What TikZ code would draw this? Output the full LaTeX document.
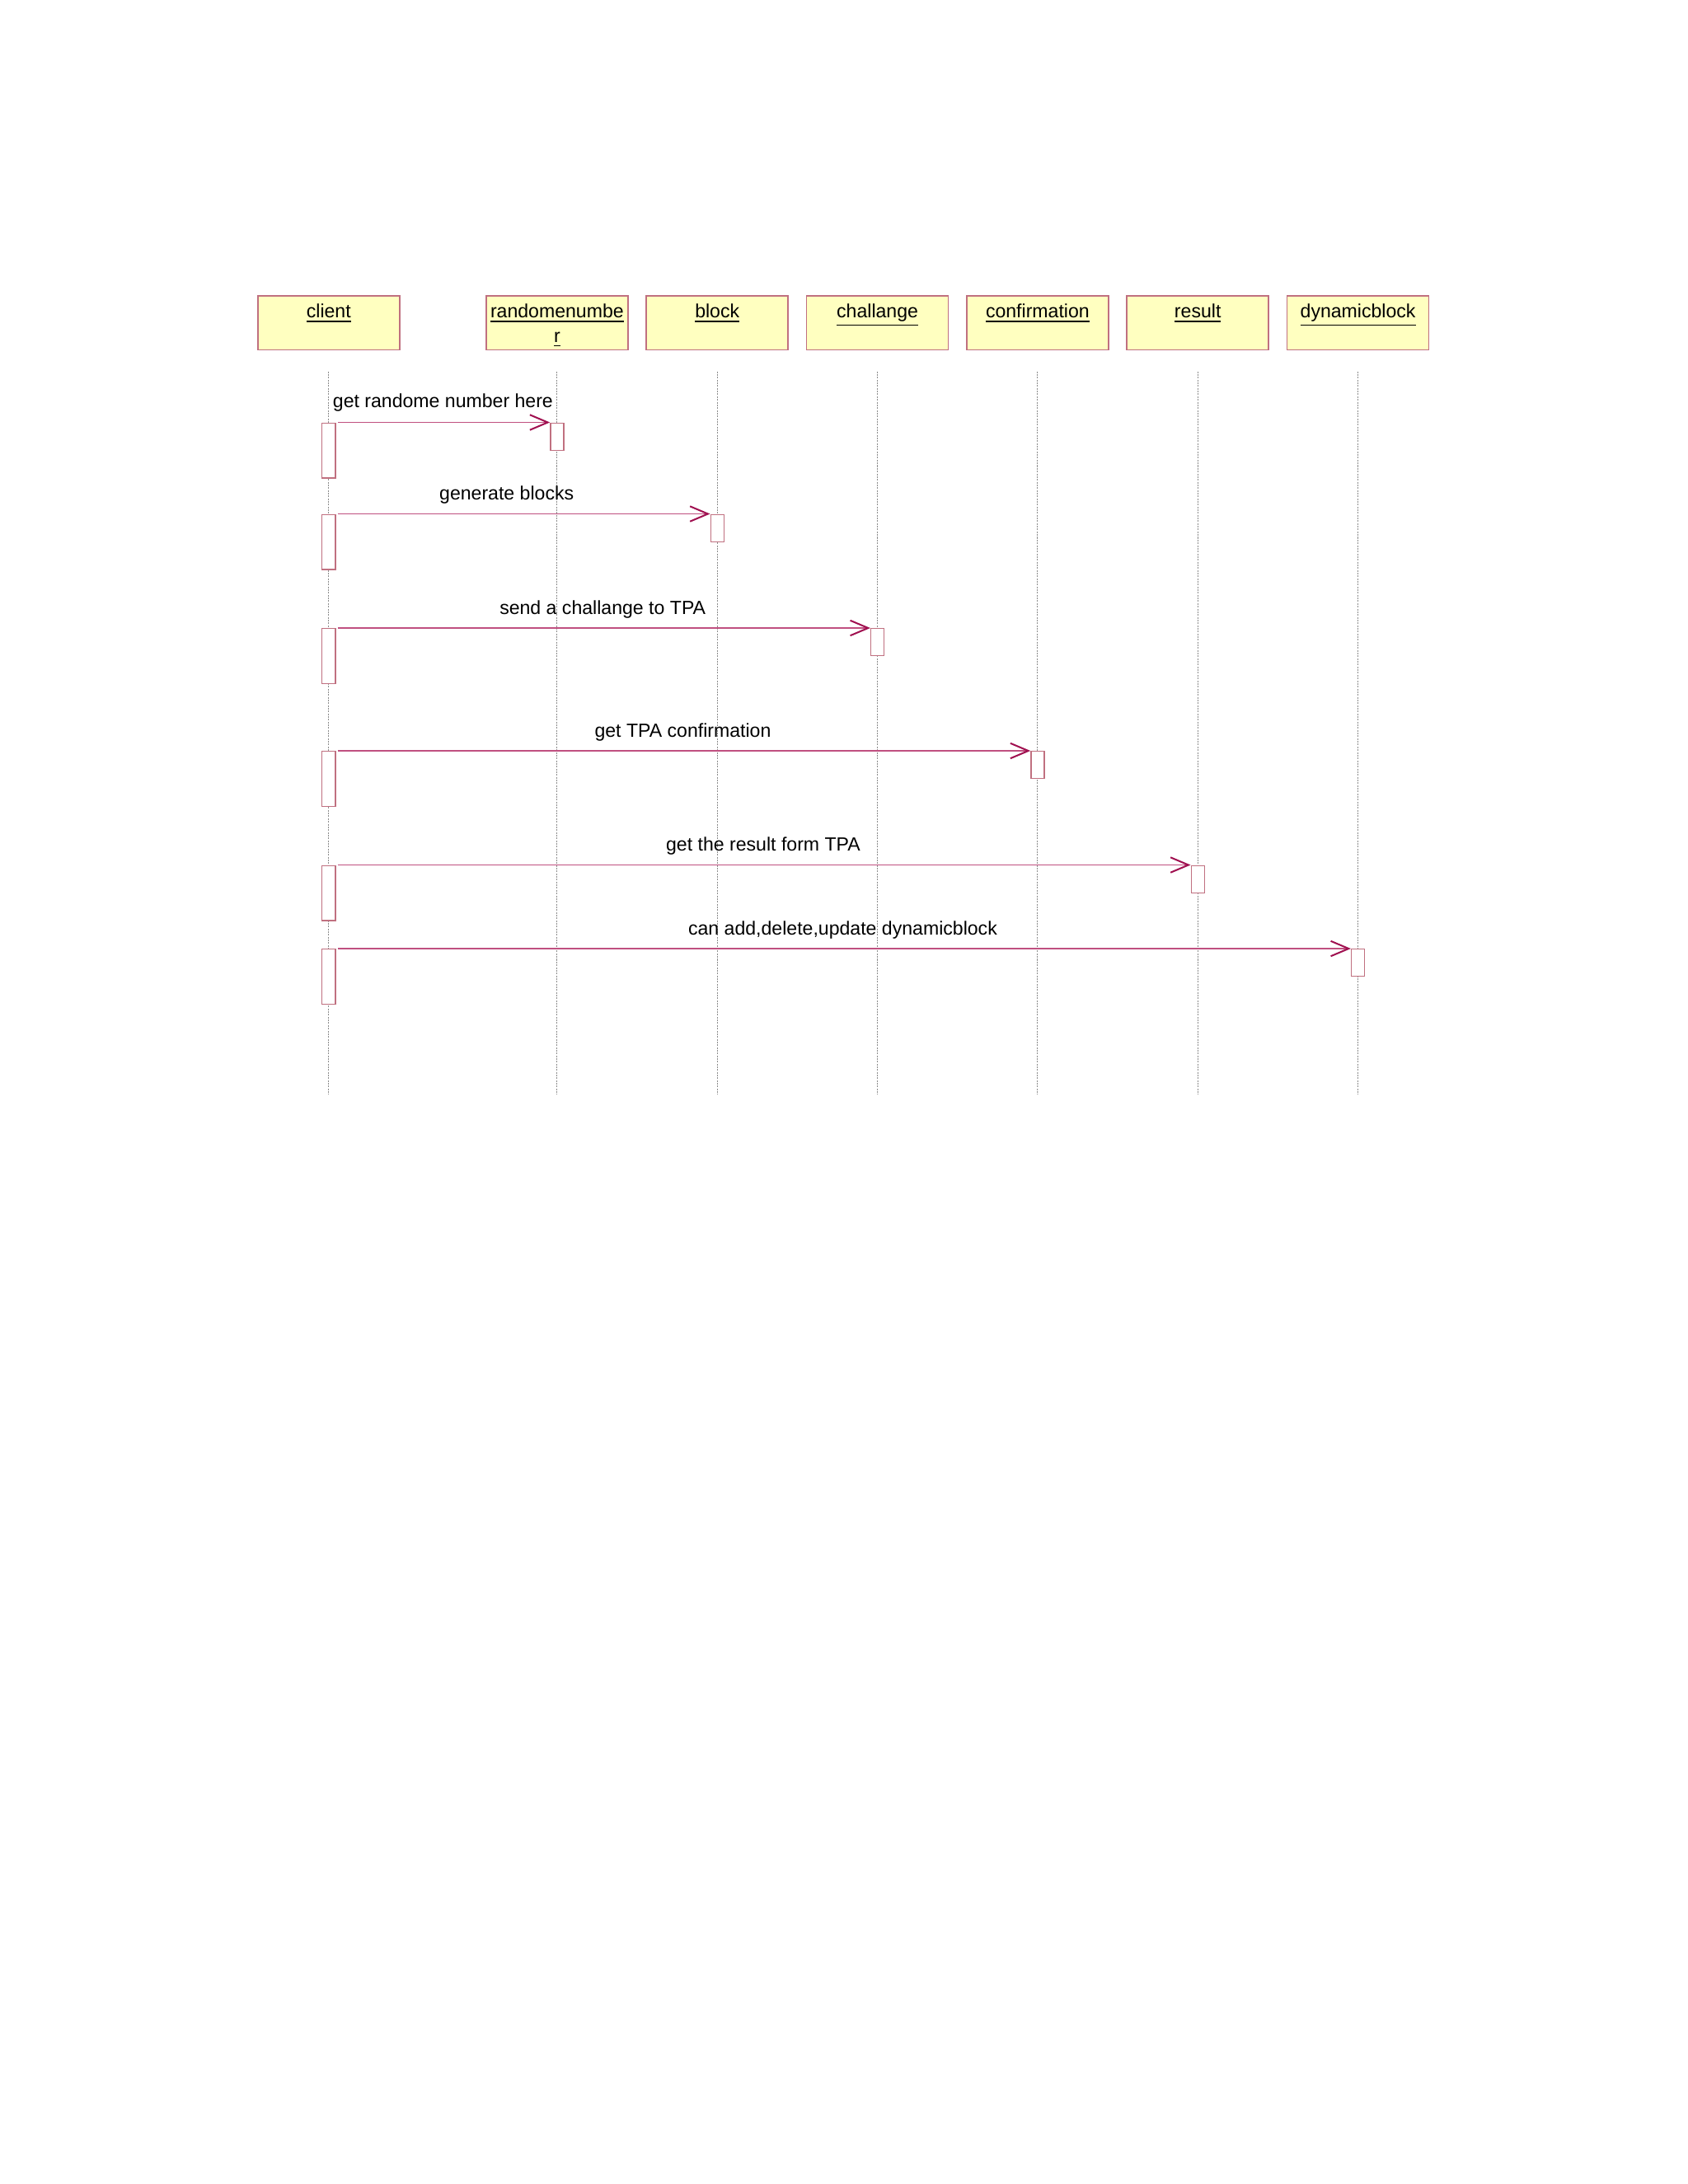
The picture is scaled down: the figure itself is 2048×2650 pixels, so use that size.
\documentclass[tikz,border=0pt]{standalone}
\usepackage{fontspec}
\setmainfont{Liberation Sans}
\usetikzlibrary{arrows.meta}
\definecolor{boxfill}{HTML}{FFFFC0}
\definecolor{boxline}{HTML}{C07080}
\definecolor{msgline}{HTML}{C05080}
\definecolor{msgtip}{HTML}{A01050}
\definecolor{lifegray}{HTML}{8C8C8C}
\begin{document}
\begin{tikzpicture}[x=0.29883pt,y=-0.29883pt,
  every node/.style={font=\fontsize{6.9pt}{8.96pt}\selectfont, inner sep=0pt},
  objbox/.style={draw=boxline, fill=boxfill, line width=0.45pt, minimum width=51.4pt, minimum height=19.7pt, anchor=north},
  objlabel/.style={anchor=base},
  lifeline/.style={draw=lifegray, line width=0.3pt, dash pattern=on 0.6pt off 0.4pt},
  actbox/.style={draw=boxline, fill=white, line width=0.4pt, minimum width=4.8pt, anchor=north},
  clientact/.style={actbox, minimum height=20pt},
  targetact/.style={actbox, minimum height=9.9pt},
  msg/.style={draw=msgline, line width=0.35pt, -{Straight Barb[length=6.5pt,width=5.5pt,line width=0.6pt,color=msgtip]}},
  msglabel/.style={anchor=base}]
\useasboundingbox (0,0) rectangle (2048,2650);

% object boxes
\node[objbox] (client) at (398.8,358) {};
\node[objbox] (rnd) at (675.9,358) {};
\node[objbox] (block) at (870.2,358) {};
\node[objbox] (chal) at (1064.6,358) {};
\node[objbox] (conf) at (1258.9,358) {};
\node[objbox] (res) at (1453.2,358) {};
\node[objbox] (dyn) at (1647.6,358) {};

\node[objlabel] (clientname) at ([yshift=-8.07pt]client.north) {\underline{client}};
\node[objlabel] (rndname) at ([yshift=-8.07pt]rnd.north) {\begin{tabular}[t]{@{}c@{}}\underline{randomenumbe}\\\underline{r}\end{tabular}};
\node[objlabel] (blockname) at ([yshift=-8.07pt]block.north) {\underline{block}};
\node[objlabel] (chalname) at ([yshift=-8.07pt]chal.north) {\underline{challange}};
\node[objlabel] (confname) at ([yshift=-8.07pt]conf.north) {\underline{confirmation}};
\node[objlabel] (resname) at ([yshift=-8.07pt]res.north) {\underline{result}};
\node[objlabel] (dynname) at ([yshift=-8.07pt]dyn.north) {\underline{dynamicblock}};

% lifelines
\foreach \n/\x in {client/398.8, rnd/675.9, block/870.2, chal/1064.6, conf/1258.9, res/1453.2, dyn/1647.6}{
  \coordinate (\n-top) at (\x,450.7);
  \coordinate (\n-bot) at (\x,1328);
  \draw[lifeline] (\n-top) -- (\n-bot);
}

% messages
\node[clientact] (ca1) at (398.8,512.5) {};
\node[targetact] (ta1) at (675.9,512.5) {};
\draw[msg] ([xshift=0.7pt]ca1.north east) -- (ta1.north west);
\node[msglabel] (m1) at (537.4,494.5) {get randome number here};

\node[clientact] (ca2) at (398.8,623.5) {};
\node[targetact] (ta2) at (870.2,623.5) {};
\draw[msg] ([xshift=0.7pt]ca2.north east) -- (ta2.north west);
\node[msglabel] (m2) at (614.7,606.5) {generate blocks};

\node[clientact] (ca3) at (398.8,762) {};
\node[targetact] (ta3) at (1064.6,762) {};
\draw[msg] ([xshift=0.7pt]ca3.north east) -- (ta3.north west);
\node[msglabel] (m3) at (731.2,745) {send a challange to TPA};

\node[clientact] (ca4) at (398.8,911) {};
\node[targetact] (ta4) at (1258.9,911) {};
\draw[msg] ([xshift=0.7pt]ca4.north east) -- (ta4.north west);
\node[msglabel] (m4) at (828.5,894) {get TPA confirmation};

\node[clientact] (ca5) at (398.8,1049.5) {};
\node[targetact] (ta5) at (1453.2,1049.5) {};
\draw[msg] ([xshift=0.7pt]ca5.north east) -- (ta5.north west);
\node[msglabel] (m5) at (926,1032.5) {get the result form TPA};

\node[clientact] (ca6) at (398.8,1151) {};
\node[targetact] (ta6) at (1647.6,1151) {};
\draw[msg] ([xshift=0.7pt]ca6.north east) -- (ta6.north west);
\node[msglabel] (m6) at (1022.5,1134) {can add,delete,update dynamicblock};
\end{tikzpicture}
\end{document}
